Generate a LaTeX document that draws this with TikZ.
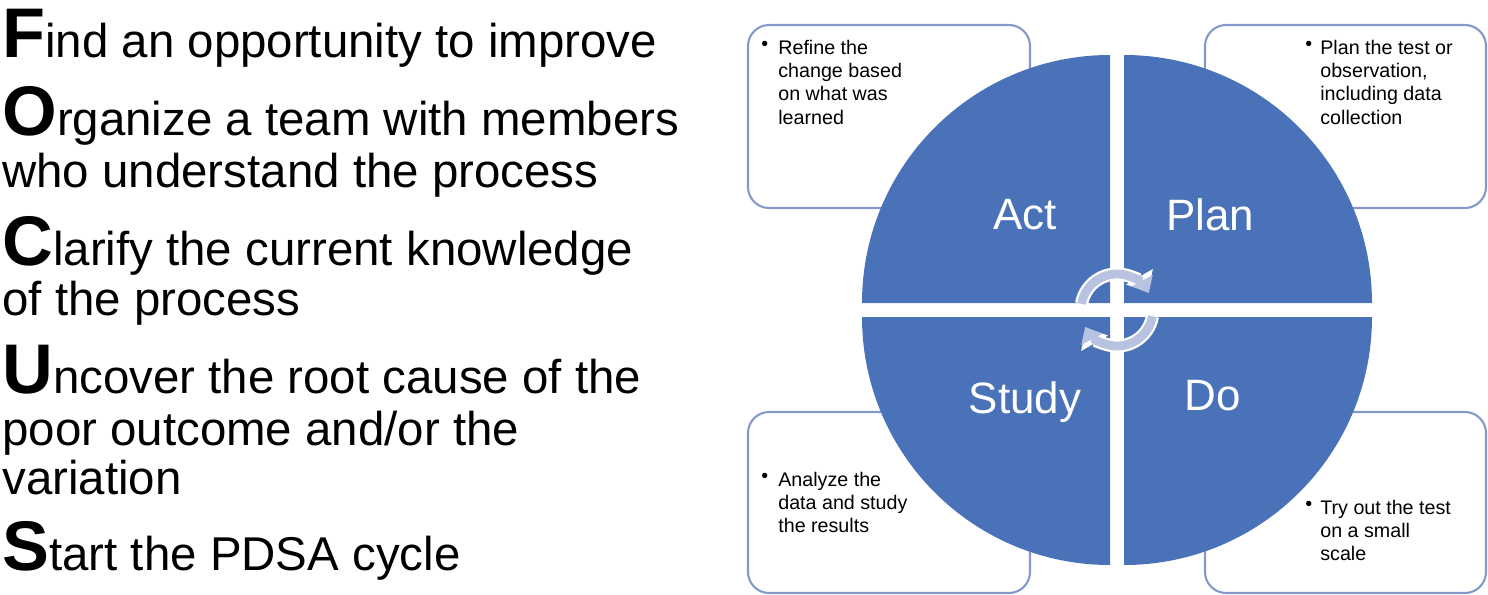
\documentclass[tikz,border=0pt]{standalone}
\usepackage{fontspec}
\setmainfont{Liberation Sans}
\usetikzlibrary{arrows.meta,positioning}
\definecolor{pdsablue}{HTML}{4A72B8}
\definecolor{boxline}{HTML}{8299C9}
\definecolor{cyclearrow}{HTML}{B7C3E0}
\newcommand\initial[1]{{\fontsize{40}{40}\selectfont\bfseries #1}}
\tikzset{
    listline/.style={anchor=base west, inner sep=0pt, font=\fontsize{27}{30}\selectfont},
    notebox/.style={draw=boxline, line width=1.2pt, rounded corners=12pt},
    quarter/.style={fill=pdsablue},
    phase/.style={text=white, font=\fontsize{25}{25}\selectfont},
    note/.style={anchor=north west, inner sep=0pt, align=left, font=\fontsize{11.2}{13.2}\selectfont},
    dot/.style={anchor=north west, inner sep=0pt, font=\fontsize{11.2}{13.2}\selectfont}
}
\begin{document}
\begin{tikzpicture}[x=0.02cm, y=-0.02cm]
    \useasboundingbox (0,0) rectangle (1488,595);

    % FOCUS list
    \node[listline] (f1) at (2,57) {\initial{F}ind an opportunity to improve};
    \node[listline] (o1) at (2,135) {\initial{O}rganize a team with members};
    \node[listline] (o2) at (2,187) {who understand the process};
    \node[listline] (c1) at (2,265) {\initial{C}larify the current knowledge};
    \node[listline] (c2) at (2,315) {of the process};
    \node[listline] (u1) at (2,393) {\initial{U}ncover the root cause of the};
    \node[listline] (u2) at (2,445) {poor outcome and/or the};
    \node[listline] (u3) at (2,494) {variation};
    \node[listline] (s1) at (2,570) {\initial{S}tart the PDSA cycle};

    % note boxes
    \draw[notebox] (748,25) rectangle (1030,208);
    \draw[notebox] (1205,25) rectangle (1486,208);
    \draw[notebox] (748,412) rectangle (1030,593);
    \draw[notebox] (1205,412) rectangle (1486,593);

    \node[dot] (bact) at (761,41) {\textbullet};
    \node[note] (tact) at (778,40) {Refine the\\change based\\on what was\\learned};
    \node[dot] (bplan) at (1305,41) {\textbullet};
    \node[note] (tplan) at (1320,40) {Plan the test or\\observation,\\including data\\collection};
    \node[dot] (bstudy) at (761,473) {\textbullet};
    \node[note] (tstudy) at (778,472) {Analyze the\\data and study\\the results};
    \node[dot] (bdo) at (1305,501) {\textbullet};
    \node[note] (tdo) at (1320,500) {Try out the test\\on a small\\scale};

    % quarters of the cycle
    \fill[quarter] (1110,303) -- ++(-248,0) arc[start angle=180, end angle=270, radius=248] -- cycle;
    \fill[quarter] (1124,303) -- ++(248,0) arc[start angle=0, end angle=-90, radius=248] -- cycle;
    \fill[quarter] (1110,317) -- ++(-248,0) arc[start angle=180, end angle=90, radius=248] -- cycle;
    \fill[quarter] (1124,317) -- ++(248,0) arc[start angle=0, end angle=90, radius=248] -- cycle;

    \node[phase] (act) at (1025,215) {Act};
    \node[phase] (plan) at (1210,215) {Plan};
    \node[phase] (study) at (1025,402) {Study};
    \node[phase] (do) at (1213,396) {Do};

    % turning arrows
    \draw[white, line width=7.5pt, -{Triangle[width=17pt,length=10pt]}]
        ([shift={(190:36)}]1117,310) arc[start angle=190, end angle=330, radius=36];
    \draw[cyclearrow, line width=5pt, -{Triangle[width=13pt,length=8pt]}]
        ([shift={(190:36)}]1117,310) arc[start angle=190, end angle=332, radius=36];
    \draw[white, line width=7.5pt, -{Triangle[width=17pt,length=10pt]}]
        ([shift={(10:36)}]1117,310) arc[start angle=10, end angle=150, radius=36];
    \draw[cyclearrow, line width=5pt, -{Triangle[width=13pt,length=8pt]}]
        ([shift={(10:36)}]1117,310) arc[start angle=10, end angle=152, radius=36];
\end{tikzpicture}
\end{document}
